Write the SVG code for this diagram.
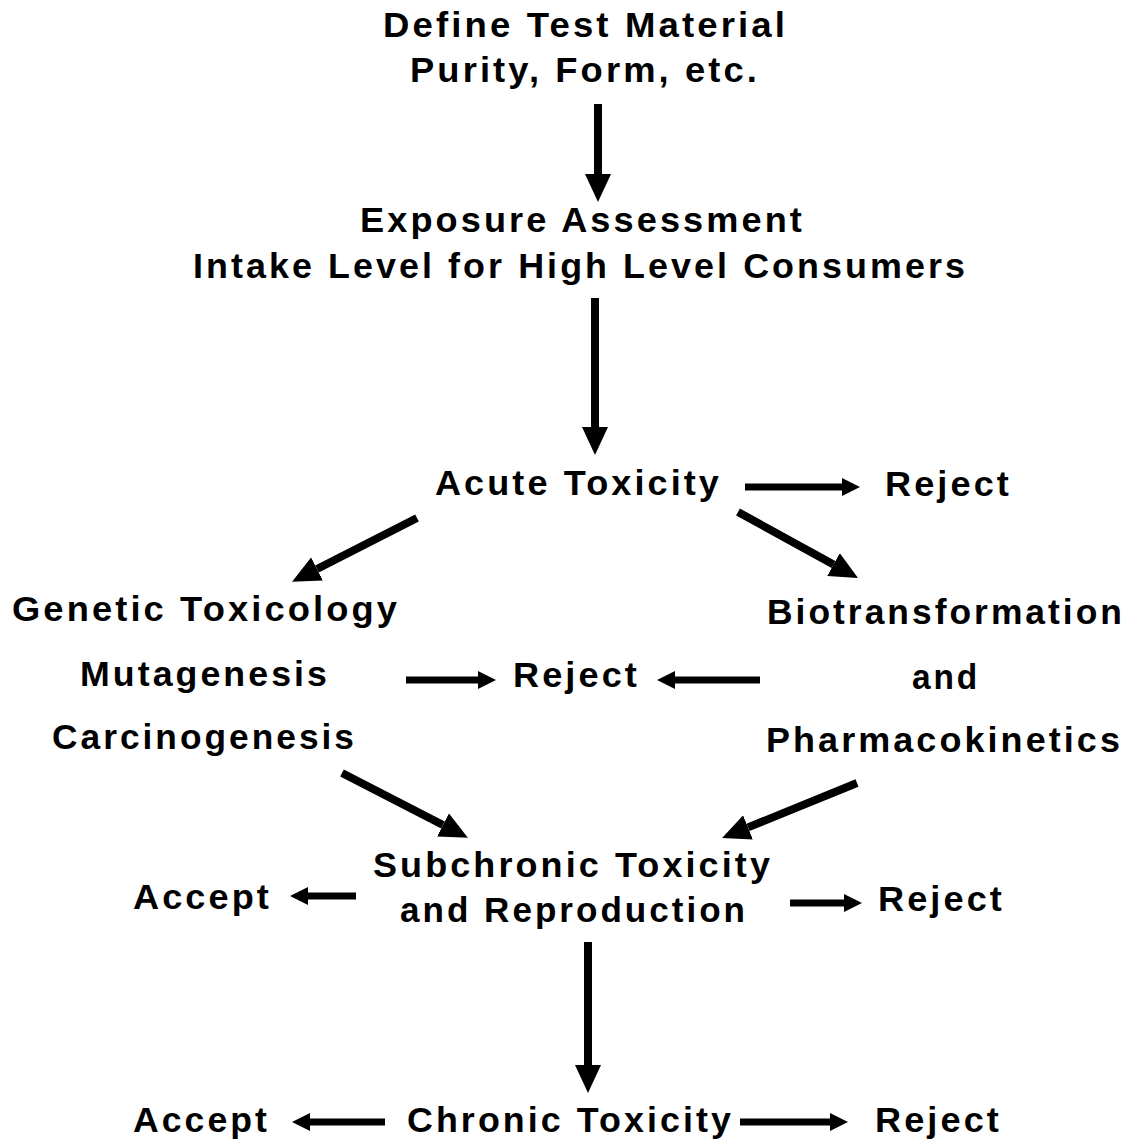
<svg xmlns="http://www.w3.org/2000/svg" width="1132" height="1143" viewBox="0 0 1132 1143">
<style>
text{font-family:"Liberation Sans",Arial,sans-serif;font-weight:bold;font-size:35px;letter-spacing:3px;fill:#000}
.c{stroke:#000;fill:none;stroke-linecap:butt}
.b{stroke-width:8}
.s{stroke-width:7}
</style>
<defs>
<marker id="big" markerUnits="userSpaceOnUse" viewBox="0 0 28 26" markerWidth="28" markerHeight="26" refX="0" refY="13" orient="auto"><path d="M0,0 L28,13 L0,26 z" fill="#000"/></marker>
<marker id="sm" markerUnits="userSpaceOnUse" viewBox="0 0 18 18" markerWidth="18" markerHeight="18" refX="0" refY="9" orient="auto"><path d="M0,0 L18,9 L0,18 z" fill="#000"/></marker>
</defs>
<rect width="1132" height="1143" fill="#fff"/>
<g id="define"><text x="383" y="37" textLength="405" lengthAdjust="spacingAndGlyphs">Define Test Material</text><text x="410" y="82" textLength="350" lengthAdjust="spacingAndGlyphs">Purity, Form, etc.</text></g>
<g id="exposure"><text x="360" y="232" textLength="445" lengthAdjust="spacingAndGlyphs">Exposure Assessment</text><text x="193" y="278" textLength="775" lengthAdjust="spacingAndGlyphs">Intake Level for High Level Consumers</text></g>
<g id="acute"><text x="435" y="495" textLength="287" lengthAdjust="spacingAndGlyphs">Acute Toxicity</text></g>
<g id="reject1"><text x="885" y="496" textLength="127" lengthAdjust="spacingAndGlyphs">Reject</text></g>
<g id="genetic"><text x="12" y="621" textLength="388" lengthAdjust="spacingAndGlyphs">Genetic Toxicology</text><text x="80" y="686" textLength="250" lengthAdjust="spacingAndGlyphs">Mutagenesis</text><text x="52" y="749" textLength="305" lengthAdjust="spacingAndGlyphs">Carcinogenesis</text></g>
<g id="reject2"><text x="513" y="687" textLength="127" lengthAdjust="spacingAndGlyphs">Reject</text></g>
<g id="biotrans"><text x="767" y="624" textLength="358" lengthAdjust="spacingAndGlyphs">Biotransformation</text><text x="912" y="689" textLength="68" lengthAdjust="spacingAndGlyphs">and</text><text x="766" y="752" textLength="357" lengthAdjust="spacingAndGlyphs">Pharmacokinetics</text></g>
<g id="subchronic"><text x="373" y="877" textLength="400" lengthAdjust="spacingAndGlyphs">Subchronic Toxicity</text><text x="400" y="922" textLength="348" lengthAdjust="spacingAndGlyphs">and Reproduction</text></g>
<g id="accept1"><text x="133" y="909" textLength="139" lengthAdjust="spacingAndGlyphs">Accept</text></g>
<g id="reject3"><text x="878" y="911" textLength="127" lengthAdjust="spacingAndGlyphs">Reject</text></g>
<g id="chronic"><text x="407" y="1132" textLength="327" lengthAdjust="spacingAndGlyphs">Chronic Toxicity</text></g>
<g id="accept2"><text x="133" y="1132" textLength="137" lengthAdjust="spacingAndGlyphs">Accept</text></g>
<g id="reject4"><text x="875" y="1132" textLength="127" lengthAdjust="spacingAndGlyphs">Reject</text></g>
<g id="connectors">
<line class="c b" x1="598" y1="104" x2="598" y2="174" marker-end="url(#big)"/>
<line class="c b" x1="595" y1="298" x2="595" y2="427" marker-end="url(#big)"/>
<line class="c s" x1="745" y1="487" x2="842" y2="487" marker-end="url(#sm)"/>
<line class="c b" x1="417" y1="518" x2="317" y2="569" marker-end="url(#big)"/>
<line class="c b" x1="738" y1="512" x2="833.5" y2="564.5" marker-end="url(#big)"/>
<line class="c s" x1="406" y1="680" x2="478" y2="680" marker-end="url(#sm)"/>
<line class="c s" x1="760" y1="680" x2="675" y2="680" marker-end="url(#sm)"/>
<line class="c b" x1="342" y1="773" x2="443" y2="825" marker-end="url(#big)"/>
<line class="c b" x1="857" y1="783" x2="748" y2="827.4" marker-end="url(#big)"/>
<line class="c s" x1="356" y1="896" x2="308" y2="896" marker-end="url(#sm)"/>
<line class="c s" x1="790" y1="903" x2="844" y2="903" marker-end="url(#sm)"/>
<line class="c b" x1="588" y1="942" x2="588" y2="1065" marker-end="url(#big)"/>
<line class="c s" x1="385" y1="1122" x2="310" y2="1122" marker-end="url(#sm)"/>
<line class="c s" x1="740" y1="1122" x2="830" y2="1122" marker-end="url(#sm)"/>
</g>
</svg>
